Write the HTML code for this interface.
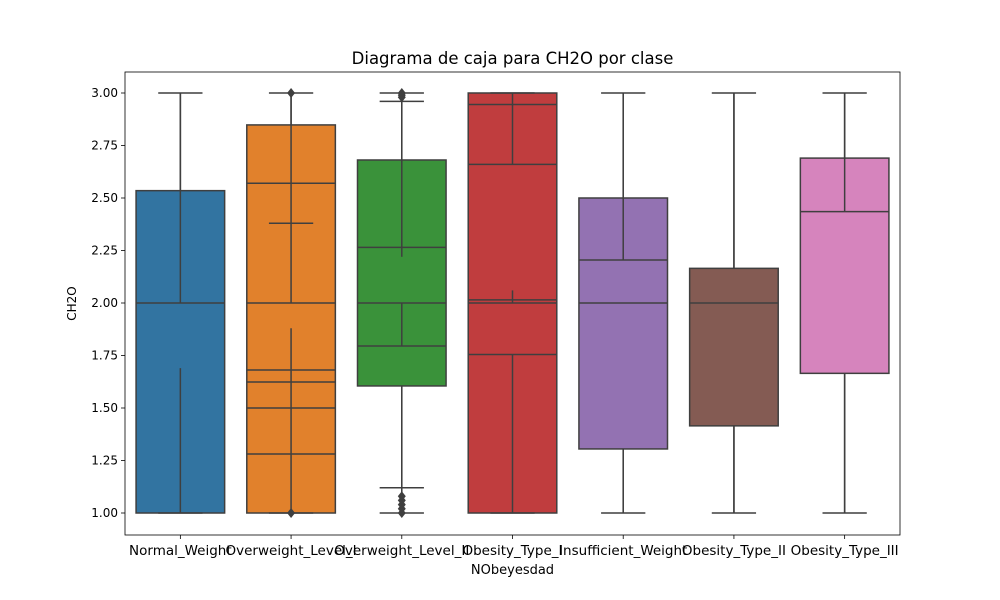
<!DOCTYPE html>
<html><head><meta charset="utf-8"><style>body{margin:0;background:#fff}svg{display:block}text{font-family:"DejaVu Sans","Liberation Sans",sans-serif}</style></head>
<body>
<svg id="chart" width="1000" height="600" xmlns="http://www.w3.org/2000/svg"></svg>
<script>
const categories=["Normal_Weight","Overweight_Level_I","Overweight_Level_II","Obesity_Type_I","Insufficient_Weight","Obesity_Type_II","Obesity_Type_III"];
const q1=[1.0,1.0,1.605,1.0,1.305,1.415,1.665];
const q3=[2.535,2.848,2.681,3.0,2.50,2.165,2.69];
const medians=[2.0,2.0,2.0,2.0,2.0,2.0,2.435];
const whiskerLow=[1.0,1.0,1.0,1.0,1.0,1.0,1.0];
const whiskerHigh=[3.0,3.0,3.0,3.0,3.0,3.0,3.0];
const extraLines=[[],[2.57,1.681,1.624,1.50,1.281],[2.265,1.795],[2.945,2.66,2.015,1.755],[2.205],[],[]];
const extraCaps=[[],[2.38],[2.96,1.12],[],[],[],[]];
const innerSegments=[[[2.535,2.0],[1.69,1.0]],[[2.848,2.0],[1.88,1.0]],[[2.681,2.22],[2.0,1.795]],[[3.0,2.66],[2.06,2.0],[1.755,1.0]],[[2.5,2.205]],[],[[2.69,2.435]]];
const outliers=[[],[3.0,1.0],[3.0,2.99,2.98,1.0,1.02,1.04,1.06,1.08],[],[],[],[]];
const yTicks=[1.0,1.25,1.5,1.75,2.0,2.25,2.5,2.75,3.0];
const colors=["#3274a1","#e1812c","#3a923a","#c03d3e","#9372b2","#845b53","#d684bd"];
const L=125,R=900,T=72,B=535;
const y=v=>93+(3-v)*210;
const bw=(R-L)/categories.length;
const xc=i=>L+bw*(i+0.5);
const svg=document.getElementById('chart');
const NS="http://www.w3.org/2000/svg";
function mk(tag,attrs,parent){const e=document.createElementNS(NS,tag);for(const k in attrs)e.setAttribute(k,attrs[k]);(parent||svg).appendChild(e);return e;}
const LC="#3f3f3f";
categories.forEach((c,i)=>{
  const g=mk('g',{});
  
  
  const cx=xc(i),w=bw*0.8,capw=w/2;
  mk('line',{x1:cx,x2:cx,y1:y(whiskerLow[i]),y2:y(whiskerHigh[i]),stroke:LC,'stroke-width':1.5},g);
  mk('rect',{x:cx-w/2,y:y(q3[i]),width:w,height:y(q1[i])-y(q3[i]),fill:colors[i],stroke:LC,'stroke-width':1.5},g);
  mk('line',{x1:cx,x2:cx,y1:y(q3[i]),y2:y(whiskerHigh[i]),stroke:LC,'stroke-width':1.5},g);
  mk('line',{x1:cx,x2:cx,y1:y(whiskerLow[i]),y2:y(q1[i]),stroke:LC,'stroke-width':1.5},g);
  innerSegments[i].forEach(s=>mk('line',{x1:cx,x2:cx,y1:y(s[0]),y2:y(s[1]),stroke:LC,'stroke-width':1.5},g));
  [whiskerLow[i],whiskerHigh[i]].concat(extraCaps[i]).forEach(v=>mk('line',{x1:cx-capw/2,x2:cx+capw/2,y1:y(v),y2:y(v),stroke:LC,'stroke-width':1.5},g));
  mk('line',{x1:cx-w/2,x2:cx+w/2,y1:y(medians[i]),y2:y(medians[i]),stroke:LC,'stroke-width':1.5},g);
  extraLines[i].forEach(v=>mk('line',{x1:cx-w/2,x2:cx+w/2,y1:y(v),y2:y(v),stroke:LC,'stroke-width':1.5},g));
  outliers[i].forEach(v=>mk('path',{d:`M${cx},${y(v)-5}L${cx+4},${y(v)}L${cx},${y(v)+5}L${cx-4},${y(v)}Z`,fill:LC},g));
  const t=mk('text',{x:cx,y:555,'text-anchor':'middle','font-size':13.5,fill:'#000'});
  t.textContent=c;
  
  
  mk('line',{x1:cx,x2:cx,y1:B,y2:B+4,stroke:'#000','stroke-width':0.8});
});
yTicks.forEach(v=>{
  mk('line',{x1:L-4,x2:L,y1:y(v),y2:y(v),stroke:'#000','stroke-width':0.8});
  const t=mk('text',{x:L-7,y:y(v)+4,'text-anchor':'end','font-size':12,fill:'#000'});
  t.textContent=v.toFixed(2);
  
  
});
const frame=mk('rect',{x:L,y:T,width:R-L,height:B-T,fill:'none',stroke:'#000','stroke-width':0.8});


const tt=mk('text',{x:(L+R)/2,y:64,'text-anchor':'middle','font-size':16.5,fill:'#000'});
tt.textContent="Diagrama de caja para CH2O por clase";


const xt=mk('text',{x:(L+R)/2,y:574,'text-anchor':'middle','font-size':13,fill:'#000'});
xt.textContent="NObeyesdad";


const yt=mk('text',{x:0,y:0,'text-anchor':'middle','font-size':12,fill:'#000',transform:`translate(76,${(T+B)/2}) rotate(-90)`});
yt.textContent="CH2O";


</script>
</body></html>
